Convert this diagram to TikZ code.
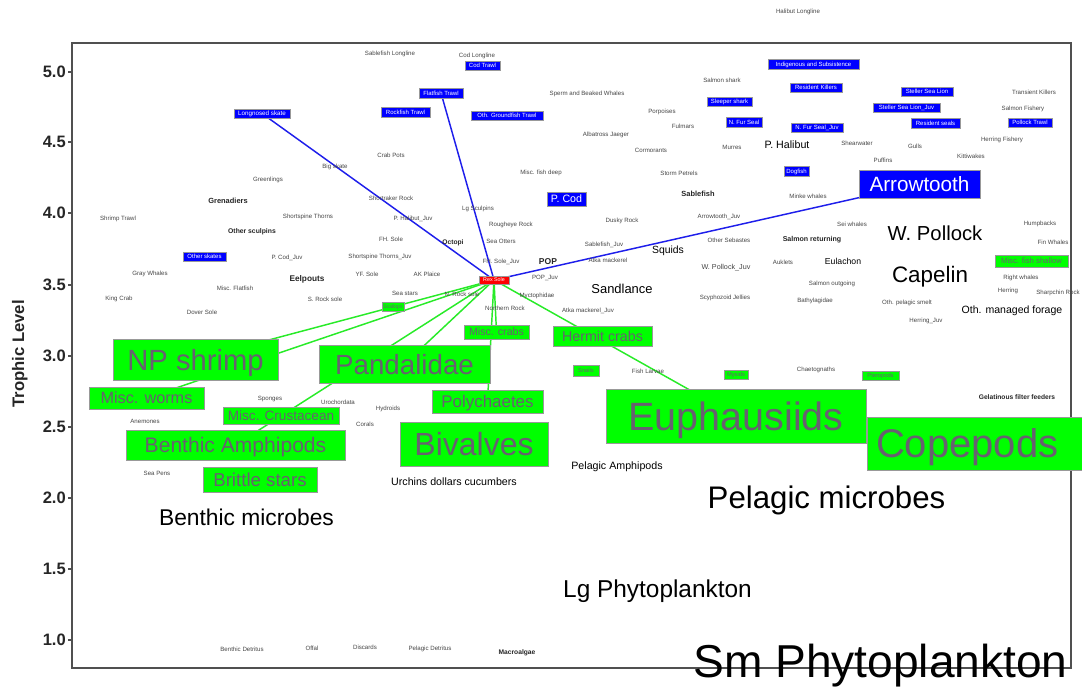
\documentclass[tikz,border=0pt]{standalone}
\usepackage{fontspec}
\setmainfont{Liberation Sans}
\usetikzlibrary{shadows}
\pgfdeclarelayer{bg}
\pgfsetlayers{bg,main}
\newcommand\myfs[1]{\fontsize{#1pt}{#1pt}\selectfont}
\definecolor{gboxc}{RGB}{0,255,0}
\definecolor{bboxc}{RGB}{0,0,255}
\definecolor{rboxc}{RGB}{255,0,0}
\definecolor{gtxtc}{RGB}{104,96,112}
\definecolor{framec}{RGB}{80,80,80}
\definecolor{tinyc}{RGB}{70,70,70}
\definecolor{glinec}{RGB}{40,235,40}
\definecolor{blinec}{RGB}{30,30,235}
\tikzset{
  every node/.append style={text depth=0pt, inner sep=0pt},
  sz/.style 2 args={minimum width={#1*0.75pt}, minimum height={#2*0.75pt}},
  tn/.style={font=\myfs{4.6}, text=tinyc},
  lb/.style={font=\myfs{#1}, text=black},
  bl/.style={font=\myfs{#1}\bfseries, text=black!85},
  shd/.style={drop shadow={shadow xshift=1.1pt, shadow yshift=-1.1pt, fill=black!65, opacity=1}},
  gb/.style={fill=gboxc, draw=black!40, line width=0.4pt, text=gtxtc, font=\myfs{#1}, shd},
  bb/.style={fill=bboxc, draw=black!40, line width=0.4pt, text=white, font=\myfs{#1}, shd},
  rb/.style={fill=rboxc, draw=black!40, line width=0.4pt, text=white, font=\myfs{#1}, shd},
  gln/.style={draw=glinec, line width=1.1pt},
  bln/.style={draw=blinec, line width=1.1pt},
}
\begin{document}
\begin{tikzpicture}[x=0.75pt,y=-0.75pt]
\useasboundingbox (0,0) rectangle (1082,689);

% axis labels
\foreach \v/\yy in {5.0/72,4.5/142,4.0/213,3.5/285,3.0/356,2.5/427,2.0/498,1.5/569,1.0/640}{
  \node[anchor=east, font=\myfs{12.4}\bfseries, text=black!85] (tk\yy) at (66,\yy) {\v};
}
\node[rotate=90, font=\myfs{12.5}\bfseries, text=black!85] (ylab) at (18,354) {Trophic Level};

% tiny labels
\node[tn] (n1) at (798,11) {Halibut Longline};
\node[tn] (n2) at (390,53) {Sablefish Longline};
\node[tn] (n3) at (477,55) {Cod Longline};
\node[tn] (n4) at (587,93) {Sperm and Beaked Whales};
\node[tn] (n5) at (722,80) {Salmon shark};
\node[tn] (n6) at (662,111) {Porpoises};
\node[tn] (n7) at (683,126) {Fulmars};
\node[tn] (n8) at (606,134) {Albatross Jaeger};
\node[tn] (n9) at (651,150) {Cormorants};
\node[tn] (n10) at (732,147) {Murres};
\node[tn] (n11) at (679,173) {Storm Petrels};
\node[tn] (n12) at (808,196) {Minke whales};
\node[tn] (n13) at (622,220) {Dusky Rock};
\node[tn] (n14) at (719,216) {Arrowtooth\_Juv};
\node[tn] (n15) at (1034,92) {Transient Killers};
\node[tn] (n16) at (1023,108) {Salmon Fishery};
\node[tn] (n17) at (1002,139) {Herring Fishery};
\node[tn] (n18) at (857,143) {Shearwater};
\node[tn] (n19) at (915,146) {Gulls};
\node[tn] (n20) at (971,156) {Kittiwakes};
\node[tn] (n21) at (883,160) {Puffins};
\node[tn] (n22) at (852,224) {Sei whales};
\node[tn] (n23) at (1040,223) {Humpbacks};
\node[tn] (n24) at (1053,242) {Fin Whales};
\node[tn] (n25) at (1021,277) {Right whales};
\node[tn] (n26) at (1008,290) {Herring};
\node[tn] (n27) at (1058,292) {Sharpchin Rock};
\node[tn] (n28) at (832,283) {Salmon outgoing};
\node[tn] (n29) at (815,300) {Bathylagidae};
\node[tn] (n30) at (907,302) {Oth. pelagic smelt};
\node[tn] (n31) at (926,320) {Herring\_Juv};
\node[tn] (n32) at (816,369) {Chaetognaths};
\node[tn] (n33) at (391,155) {Crab Pots};
\node[tn] (n34) at (335,166) {Big skate};
\node[tn] (n35) at (268,179) {Greenlings};
\node[tn] (n36) at (118,218) {Shrimp Trawl};
\node[tn] (n37) at (391,198) {Shortraker Rock};
\node[tn] (n38) at (308,216) {Shortspine Thorns};
\node[tn] (n39) at (413,218) {P. Halibut\_Juv};
\node[tn] (n40) at (478,208) {Lg Sculpins};
\node[tn] (n41) at (511,224) {Rougheye Rock};
\node[tn] (n42) at (541,172) {Misc. fish deep};
\node[tn] (n43) at (501,241) {Sea Otters};
\node[tn] (n44) at (391,239) {FH. Sole};
\node[tn] (n45) at (287,257) {P. Cod\_Juv};
\node[tn] (n46) at (380,256) {Shortspine Thorns\_Juv};
\node[tn] (n47) at (501,261) {FH. Sole\_Juv};
\node[tn] (n48) at (545,277) {POP\_Juv};
\node[tn] (n49) at (608,260) {Atka mackerel};
\node[tn] (n50) at (604,244) {Sablefish\_Juv};
\node[tn] (n51) at (729,240) {Other Sebastes};
\node[tn, font=\myfs{5.4}] (n52) at (726,267) {W. Pollock\_Juv};
\node[tn] (n53) at (783,262) {Auklets};
\node[tn] (n54) at (367,274) {YF. Sole};
\node[tn] (n55) at (427,274) {AK Plaice};
\node[tn] (n56) at (405,293) {Sea stars};
\node[tn] (n57) at (325,299) {S. Rock sole};
\node[tn] (n58) at (462,294) {N. Rock sole};
\node[tn] (n59) at (537,295) {Myctophidae};
\node[tn] (n60) at (505,308) {Northern Rock};
\node[tn] (n61) at (588,310) {Atka mackerel\_Juv};
\node[tn] (n62) at (648,371) {Fish Larvae};
\node[tn] (n63) at (725,297) {Scyphozoid Jellies};
\node[tn] (n64) at (150,273) {Gray Whales};
\node[tn] (n65) at (119,298) {King Crab};
\node[tn] (n66) at (235,288) {Misc. Flatfish};
\node[tn] (n67) at (202,312) {Dover Sole};
\node[tn] (n68) at (145,421) {Anemones};
\node[tn] (n69) at (270,398) {Sponges};
\node[tn] (n70) at (338,402) {Urochordata};
\node[tn] (n71) at (388,408) {Hydroids};
\node[tn] (n72) at (365,424) {Corals};
\node[tn] (n73) at (157,473) {Sea Pens};
\node[tn] (n74) at (242,649) {Benthic Detritus};
\node[tn] (n75) at (312,648) {Offal};
\node[tn] (n76) at (365,647) {Discards};
\node[tn] (n77) at (430,648) {Pelagic Detritus};

% plain labels
\node[lb=8] (phal) at (787,145) {P. Halibut};
\node[bl=5.6] (sable) at (698,194) {Sablefish};
\node[lb=15.2] (wpol) at (935,233) {W. Pollock};
\node[lb=16.8] (cape) at (930,274.5) {Capelin};
\node[bl=5.3] (salret) at (812,239) {Salmon returning};
\node[lb=6.5] (eul) at (843,261) {Eulachon};
\node[lb=7.9] (othmf) at (1012,310) {Oth. managed forage};
\node[bl=5] (gel) at (1017,397) {Gelatinous filter feeders};
\node[bl=5.6] (gren) at (228,201) {Grenadiers};
\node[bl=5.1] (oscul) at (252,231) {Other sculpins};
\node[bl=6.2] (eelp) at (307,279) {Eelpouts};
\node[bl=5] (octo) at (453,242) {Octopi};
\node[bl=6.4] (pop) at (548,262) {POP};
\node[lb=7.8] (squid) at (668,250) {Squids};
\node[lb=9.7] (sandl) at (622,289) {Sandlance};
\node[lb=8] (urch) at (454,482) {Urchins dollars cucumbers};
\node[lb=8] (pamph) at (617,466) {Pelagic Amphipods};
\node[lb=17.1] (bmic) at (246.5,517.5) {Benthic microbes};
\node[lb=23.4] (pmic) at (826.5,497.5) {Pelagic microbes};
\node[lb=18.3] (lgph) at (657.5,589) {Lg Phytoplankton};
\node[bl=5] (macro) at (517,652) {Macroalgae};

% blue boxes
\node[bb=4.7, sz={56}{9}] (lskate) at (262,113.5) {Longnosed skate};
\node[bb=4.5, sz={35}{9}] (codtr) at (482.5,65.5) {Cod Trawl};
\node[bb=4.5, sz={44}{10}] (flat) at (441,93) {Flatfish Trawl};
\node[bb=4.5, sz={49}{10}] (rocktr) at (405.5,112) {Rockfish Trawl};
\node[bb=4.5, sz={72}{9}] (othgr) at (507,115.5) {Oth. Groundfish Trawl};
\node[bb=4.5, sz={45}{9}] (sleep) at (729.5,101.5) {Sleeper shark};
\node[bb=4.5, sz={36}{10}] (nfur) at (744,122) {N. Fur Seal};
\node[bb=4.5, sz={52}{9}] (nfurj) at (817,127.5) {N. Fur Seal\_Juv};
\node[bb=4.5, sz={25}{10}] (dogf) at (796.5,171) {Dogfish};
\node[bb=8, sz={39}{14}] (pcod) at (566.5,199) {P. Cod};
\node[bb=4.5, sz={91}{10}] (indig) at (813.5,64) {Indigenous and Subsistence};
\node[bb=4.5, sz={52}{9}] (reskil) at (816,87.5) {Resident Killers};
\node[bb=4.5, sz={52}{9}] (ssl) at (927,91.5) {Steller Sea Lion};
\node[bb=4.5, sz={67}{9}] (sslj) at (906.5,107.5) {Steller Sea Lion\_Juv};
\node[bb=4.5, sz={49}{10}] (resse) at (935.5,123) {Resident seals};
\node[bb=4.5, sz={44}{9}] (poltr) at (1030,122.5) {Pollock Trawl};
\node[bb=15.5, sz={121}{28}] (arrow) at (919.5,184) {Arrowtooth};
\node[bb=4.5, sz={43}{9}] (oskate) at (204.5,256.5) {Other skates};

% red focal box
\node[rb=4, sz={30}{8}] (rex) at (494,280) {Rex Sole};

% green boxes
\node[gb=21.9, sz={165}{41}] (npsh) at (195.5,359.5) {NP shrimp};
\node[gb=12.2, sz={115}{22}] (worms) at (146.5,398) {Misc. worms};
\node[gb=10.2, sz={116}{17}] (mcrust) at (281,415.5) {Misc. Crustacean};
\node[gb=20.8, sz={171}{38}] (pand) at (404.5,364) {Pandalidae};
\node[gb=12.7, sz={111}{23}] (poly) at (487.5,401.5) {Polychaetes};
\node[gb=15.8, sz={219}{30}] (bamph) at (235.5,445) {Benthic Amphipods};
\node[gb=24, sz={148}{44}] (biv) at (474,444) {Bivalves};
\node[gb=14, sz={114}{25}] (brit) at (260,479.5) {Brittle stars};
\node[gb=8, sz={65}{14}] (mcrab) at (496.5,332) {Misc. crabs};
\node[gb=10.7, sz={99}{20}] (herm) at (602.5,336) {Hermit crabs};
\node[gb=29.6, sz={260}{54}] (euph) at (736,416) {Euphausiids};
\node[gb=30, sz={228}{53}, text width={210*0.75pt}, align=left, inner xsep={9*0.75pt}] (cope) at (981,443.5) {Copepods};
\node[gb=3.8, sz={22}{9}] (scal) at (393,306.5) {Scallops};
\node[gb=4.3, sz={26}{11}] (snail) at (586,370.5) {Snails};
\node[gb=4.3, sz={24}{9}] (mysid) at (736,374.5) {Mysids};
\node[gb=4.3, sz={37}{9}] (ptero) at (880.5,375.5) {Pteropods};
\node[gb=5.8, sz={73}{12}] (mfshal) at (1031.5,261) {Misc. fish shallow};

\node[lb=34.6] (smph) at (880.5,661) {Sm Phytoplankton};

\begin{pgfonlayer}{bg}
\fill[white] (0,0) rectangle (1082,689);
\draw[framec, line width=1.1pt] (72,43) rectangle (1071,668);
\foreach \yy in {72,142,213,285,356,427,498,569,640}{
  \draw[framec, line width=0.8pt] (68,\yy) -- (72,\yy);
}
\draw[bln] (rex.center) -- (lskate.center);
\draw[bln] (rex.center) -- (flat.center);
\draw[bln] (rex.center) -- (arrow.center);
\draw[gln] (rex.center) -- (npsh.center);
\draw[gln] (rex.center) -- (worms.center);
\draw[gln] (rex.center) -- (pand.center);
\draw[gln] (rex.center) -- (bamph.center);
\draw[gln] (rex.center) -- (mcrab.center);
\draw[gln] (rex.center) -- (poly.center);
\draw[gln] (rex.center) -- (euph.center);
\end{pgfonlayer}
\end{tikzpicture}
\end{document}
